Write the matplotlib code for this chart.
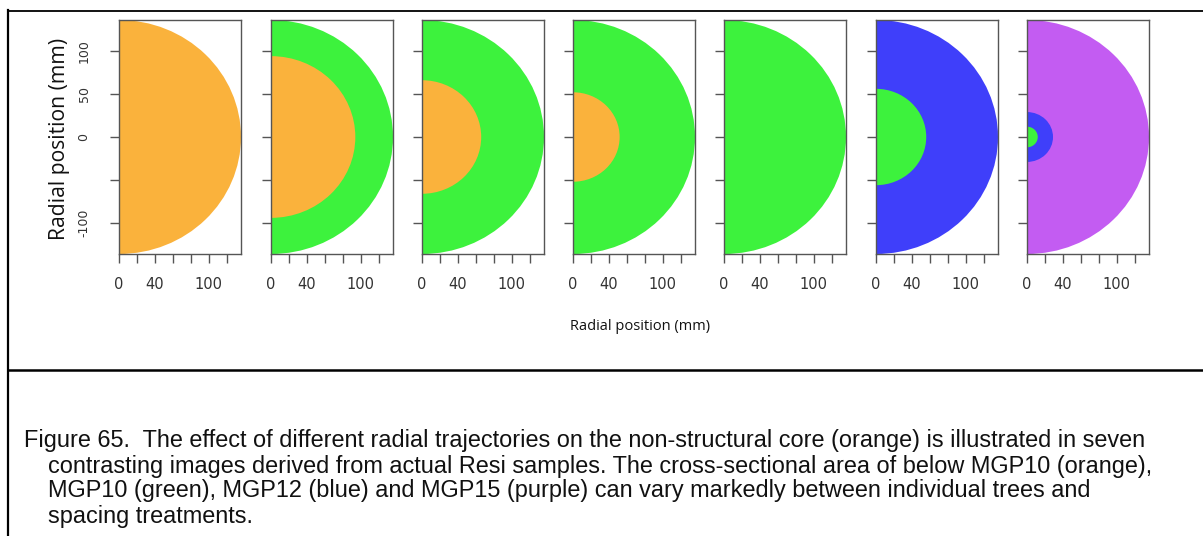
import matplotlib
matplotlib.use("Agg")
import matplotlib.pyplot as plt
from matplotlib.patches import Wedge
from matplotlib.lines import Line2D

# ---- data (mm) ----
panels = [1, 2, 3, 4, 5, 6, 7]
purple_radius = [0, 0, 0, 0, 0, 0, 136]
blue_radius = [0, 0, 0, 0, 0, 136, 29]
green_radius = [0, 136, 136, 136, 136, 56, 12]
orange_radius = [136, 94, 66, 52, 0, 0, 0]
layer_colors = {"purple": "#c35cf2", "blue": "#3f3ffa", "green": "#3df23d", "orange": "#fab23c"}
yticks = [-100, -50, 0, 50, 100]
ytick_labels = ["-100", "", "0", "50", "100"]
xticks = [0, 20, 40, 60, 80, 100, 120]
xtick_labels = ["0", "", "40", "", "", "100", ""]
axis_label = "Radial position (mm)"
caption_lines = [
    "Figure 65.  The effect of different radial trajectories on the non-structural core (orange) is illustrated in seven",
    "contrasting images derived from actual Resi samples. The cross-sectional area of below MGP10 (orange),",
    "MGP10 (green), MGP12 (blue) and MGP15 (purple) can vary markedly between individual trees and",
    "spacing treatments.",
]

W, H = 1203, 536
fig = plt.figure(figsize=(W / 100, H / 100), dpi=100)

lefts_px = [119, 271, 422, 573, 724, 876, 1027]
ax_w, top_px, bot_px = 122, 20, 254
frame_col = "#555555"
tick_col = "#333333"

for i, lp in enumerate(lefts_px):
    ax = fig.add_axes([lp / W, 1 - bot_px / H, ax_w / W, (bot_px - top_px) / H])
    layers = [("purple", purple_radius[i]), ("blue", blue_radius[i]),
              ("green", green_radius[i]), ("orange", orange_radius[i])]
    layers = sorted([l for l in layers if l[1] > 0], key=lambda t: -t[1])
    for name, r in layers:
        ax.add_patch(Wedge((0, 0), r, -90, 90, facecolor=layer_colors[name], edgecolor="none"))
    ax.set_xlim(0, 136)
    ax.set_ylim(-136, 136)
    ax.set_xticks(xticks)
    ax.set_yticks(yticks)
    ax.set_xticklabels(xtick_labels, fontsize=10.5, color=tick_col)
    if i == 0:
        ax.set_yticklabels(ytick_labels, fontsize=9, color=tick_col, rotation=90, va="center")
    else:
        ax.set_yticklabels([])
    ax.tick_params(direction="out", length=6.5, width=1, color=frame_col)
    ax.tick_params(axis="x", pad=10)
    ax.tick_params(axis="y", pad=14)
    for s in ax.spines.values():
        s.set_color(frame_col)
        s.set_linewidth(1)

fig.text(60 / W, 1 - 139 / H, axis_label, rotation=90, ha="center", va="center",
         fontsize=15.2, family="Open Sans", color="#111111")
fig.text(640 / W, 1 - 327 / H, axis_label, ha="center", va="center",
         fontsize=10.5, family="Open Sans", color="#111111")

# frame lines
fig.add_artist(Line2D([7.5 / W, 7.5 / W], [0, 1 - 10 / H], transform=fig.transFigure, color="black", lw=1.6))
fig.add_artist(Line2D([7.5 / W, 1], [1 - 10.5 / H, 1 - 10.5 / H], transform=fig.transFigure, color="black", lw=1.3))
fig.add_artist(Line2D([7.5 / W, 1], [1 - 370 / H, 1 - 370 / H], transform=fig.transFigure, color="black", lw=1.8))

ys = [441, 466, 491, 516]
xs = [24, 48, 48, 48]
for t, x, y in zip(caption_lines, xs, ys):
    fig.text(x / W, 1 - y / H, t, ha="left", va="center", fontsize=16.9,
             family="Liberation Sans", color="#111111")

fig.savefig("out.png", dpi=100)
